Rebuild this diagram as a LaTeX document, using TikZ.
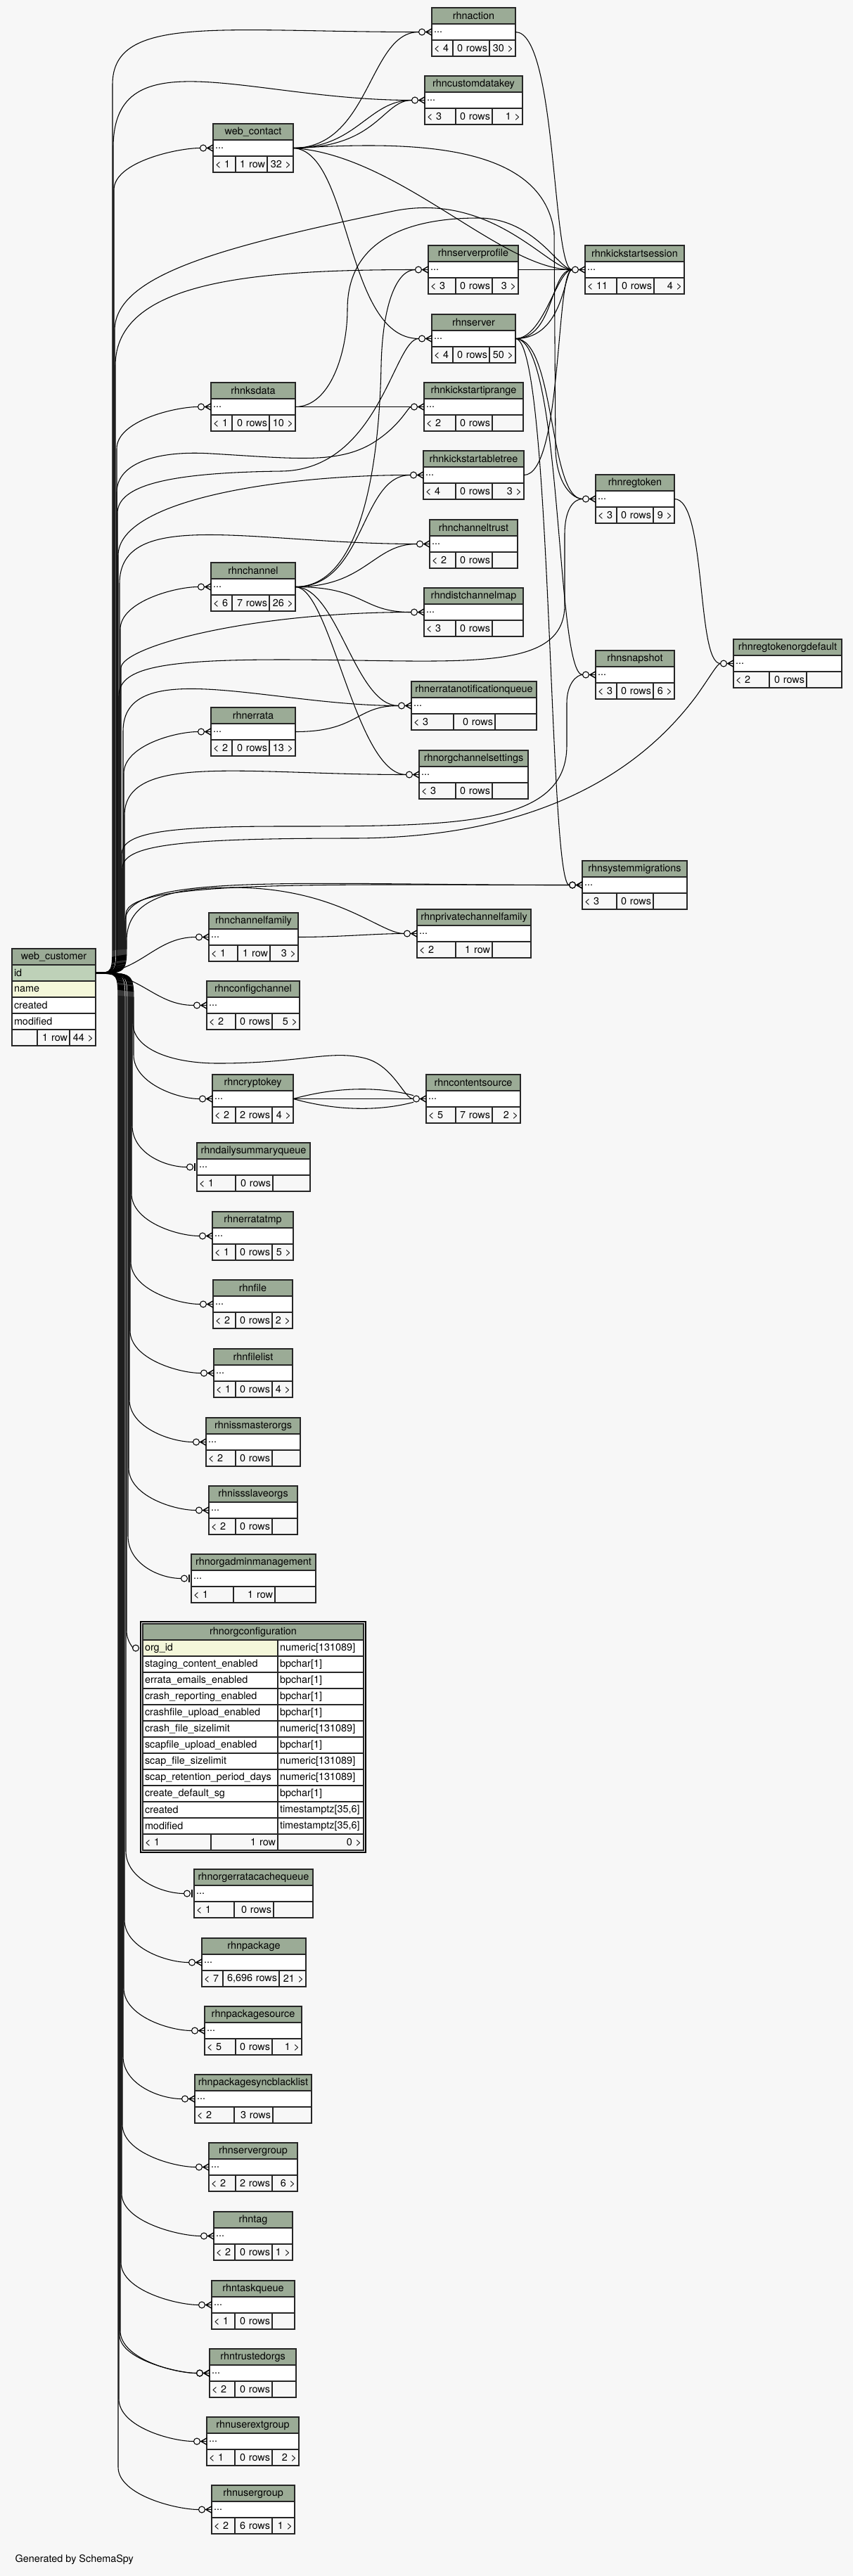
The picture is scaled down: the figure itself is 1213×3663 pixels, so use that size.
\documentclass[tikz,border=0pt]{standalone}
\usepackage{fontspec}
\setmainfont{TeX Gyre Heros}
\usetikzlibrary{calc}

\definecolor{hdgreen}{HTML}{9BAB96}
\definecolor{pkgreen}{HTML}{BED1B8}
\definecolor{idxyellow}{HTML}{F4F7DA}
\definecolor{bggray}{HTML}{F7F7F7}

% table: name, left, right, split 1, split 2, top, parents, rows, children
\newcommand{\tbl}[9]{%
  \pgfmathsetmacro{\tw}{(#3-#2)*0.75}%
  \pgfmathsetmacro{\rw}{(#3-#2-6)*0.75}%
  \pgfmathsetmacro{\lw}{(#4-#2-6)*0.75}%
  \pgfmathsetmacro{\mw}{(#5-#4-6)*0.75}%
  \pgfmathsetmacro{\fw}{(#3-#5-6)*0.75}%
  \node[hd, minimum width=\tw pt] (#1-h) at (#2,#6) {\detokenize{#1}};
  \node[cell, fill=white, text width=\rw pt, align=left] (#1) at (#2,#6+23) {...};
  \node[foot, text width=\lw pt, align=left] (#1-l) at (#2,#6+46) {\mbox{#7}};
  \node[foot, text width=\mw pt, align=right] (#1-m) at (#4,#6+46) {\mbox{#8}};
  \node[foot, text width=\fw pt, align=right] (#1-r) at (#5,#6+46) {\mbox{#9}};
}
% column row of rhnorgconfiguration: name, top, column, type
\newcommand{\cfgrow}[4]{%
  \node[cell, fill=white, text width=139.5pt, align=left] (#1) at (203,#2) {\mbox{#3}};
  \node[cell, fill=white, text width=87pt, align=left] (#1-t) at (395,#2) {\mbox{#4}};
}
% web_customer to a child above / below: child, bundle x, bend y, ctrl dy, ctrl dx, end
\newcommand{\wcup}[6]{%
  \draw[rel, #6 end] (web_customer-id.east) .. controls (#2,1383.5) .. (#2,1338) -- (#2,#3) .. controls +(0,#4) and +(-#5,0) .. (#1.west);
  \pic at (#1.west) {#6};
}
\newcommand{\wcdown}[6]{%
  \draw[rel, #6 end] (web_customer-id.east) .. controls (#2,1383.5) .. (#2,1428) -- (#2,#3) .. controls +(0,#4) and +(-#5,0) .. (#1.west);
  \pic at (#1.west) {#6};
}

\begin{document}
\begin{tikzpicture}[x=0.75pt, y=-0.75pt, font=\fontsize{10.8}{12}\selectfont,
    crowo/.pic={\draw[line width=0.8pt] (-14,0) circle (4.5);
        \fill (-9.5,0) -- (0,-5.5) -- (0,-4) -- (-6.5,0) -- (0,4) -- (0,5.5) -- cycle;
        \draw[line width=0.8pt] (-9.5,0) -- (0,0);},
    zoo/.pic={\draw[line width=0.8pt] (-10,0) circle (4.5);
        \fill (-4.5,-5.5) rectangle (-2,5.5);}]
    \tikzstyle{cell}=[draw=black!85, line width=0.9pt, anchor=north west, minimum height=17.25pt, inner xsep=2.25pt, inner ysep=0pt, outer sep=0pt]
    \tikzstyle{hd}=[cell, fill=hdgreen]
    \tikzstyle{foot}=[cell, fill=bggray]
    \tikzstyle{rel}=[draw, line width=0.8pt]
    \tikzstyle{crowo end}=[shorten >=13.9pt]
    \tikzstyle{zoo end}=[shorten >=10.9pt]

\fill[bggray] (0,0) rectangle (1213,3663);
\useasboundingbox (0,0) rectangle (1213,3663);

% web_customer
\node[hd, minimum width=89.25pt] (web_customer) at (17,1349) {web\_customer};
\node[cell, fill=pkgreen, text width=84.75pt, align=left] (web_customer-id) at (17,1372) {id};
\node[cell, fill=idxyellow, text width=84.75pt, align=left] (web_customer-name) at (17,1395) {name};
\node[cell, fill=white, text width=84.75pt, align=left] (web_customer-created) at (17,1418) {created};
\node[cell, fill=white, text width=84.75pt, align=left] (web_customer-modified) at (17,1441) {modified};
\node[foot, text width=22.5pt] (web_customer-l) at (17,1464) {};
\node[foot, text width=30pt, align=right] (web_customer-m) at (53,1464) {\mbox{1 row}};
\node[foot, text width=23.25pt, align=right] (web_customer-r) at (99,1464) {\mbox{44 >}};

% tables
\tbl{rhnaction}{614}{733}{644}{696}{11}{< 4}{0 rows}{30 >}
\tbl{rhncustomdatakey}{604}{743}{648}{700}{108}{< 3}{0 rows}{1 >}
\tbl{web_contact}{303}{417}{335}{380}{176}{< 1}{1 row}{32 >}
\tbl{rhnserverprofile}{609}{737}{648}{700}{349}{< 3}{0 rows}{3 >}
\tbl{rhnkickstartsession}{832}{973}{877}{930}{349}{< 11}{0 rows}{4 >}
\tbl{rhnserver}{614}{733}{644}{696}{447}{< 4}{0 rows}{50 >}
\tbl{rhnksdata}{300}{420}{330}{383}{544}{< 1}{0 rows}{10 >}
\tbl{rhnkickstartiprange}{603}{744}{648}{700}{544}{< 2}{0 rows}{}
\tbl{rhnkickstartabletree}{602}{745}{648}{700}{641}{< 4}{0 rows}{3 >}
\tbl{rhnregtoken}{847}{959}{877}{929}{675}{< 3}{0 rows}{9 >}
\tbl{rhnchanneltrust}{611}{736}{648}{700}{739}{< 2}{0 rows}{}
\tbl{rhnchannel}{300}{420}{330}{383}{800}{< 6}{7 rows}{26 >}
\tbl{rhndistchannelmap}{603}{744}{648}{700}{836}{< 3}{0 rows}{}
\tbl{rhnregtokenorgdefault}{1043}{1197}{1094}{1147}{909}{< 2}{0 rows}{}
\tbl{rhnsnapshot}{847}{959}{877}{929}{925}{< 3}{0 rows}{6 >}
\tbl{rhnerratanotificationqueue}{585}{763}{645}{704}{969}{< 3}{0 rows}{}
\tbl{rhnerrata}{300}{420}{330}{383}{1006}{< 2}{0 rows}{13 >}
\tbl{rhnorgchannelsettings}{596}{751}{648}{700}{1067}{< 3}{0 rows}{}
\tbl{rhnsystemmigrations}{828}{977}{877}{929}{1224}{< 3}{0 rows}{}
\tbl{rhnprivatechannelfamily}{593}{755}{648}{700}{1293}{< 2}{1 row}{}
\tbl{rhnchannelfamily}{297}{424}{338}{384}{1298}{< 1}{1 row}{3 >}
\tbl{rhnconfigchannel}{294}{426}{335}{387}{1395}{< 2}{0 rows}{5 >}
\tbl{rhncryptokey}{302}{417}{335}{387}{1528}{< 2}{2 rows}{4 >}
\tbl{rhncontentsource}{606}{740}{648}{700}{1528}{< 5}{7 rows}{2 >}
\tbl{rhndailysummaryqueue}{280}{441}{335}{388}{1625}{< 1}{0 rows}{}
\tbl{rhnerratatmp}{302}{417}{335}{387}{1723}{< 1}{0 rows}{5 >}
\tbl{rhnfile}{303}{416}{335}{387}{1820}{< 2}{0 rows}{2 >}
\tbl{rhnfilelist}{304}{416}{335}{387}{1918}{< 1}{0 rows}{4 >}
\tbl{rhnissmasterorgs}{293}{427}{335}{387}{2016}{< 2}{0 rows}{}
\tbl{rhnissslaveorgs}{297}{423}{335}{387}{2113}{< 2}{0 rows}{}
\tbl{rhnorgadminmanagement}{272}{449}{332}{391}{2210}{< 1}{1 row}{}
\tbl{rhnorgerratacachequeue}{276}{445}{333}{389}{2658}{< 1}{0 rows}{}
\tbl{rhnpackage}{287}{435}{317}{397}{2756}{< 7}{6,696 rows}{21 >}
\tbl{rhnpackagesource}{291}{429}{335}{387}{2853}{< 5}{0 rows}{1 >}
\tbl{rhnpackagesyncblacklist}{277}{443}{333}{388}{2950}{< 2}{3 rows}{}
\tbl{rhnservergroup}{297}{423}{335}{387}{3047}{< 2}{2 rows}{6 >}
\tbl{rhntag}{304}{416}{334}{387}{3145}{< 2}{0 rows}{1 >}
\tbl{rhntaskqueue}{301}{419}{334}{387}{3243}{< 1}{0 rows}{}
\tbl{rhntrustedorgs}{298}{421}{334}{387}{3340}{< 2}{0 rows}{}
\tbl{rhnuserextgroup}{294}{425}{334}{387}{3437}{< 1}{0 rows}{2 >}
\tbl{rhnusergroup}{301}{419}{334}{387}{3534}{< 2}{6 rows}{1 >}

% rhnorgconfiguration, shown with its columns
\draw[line width=1.5pt] (200,2306) rectangle (520,2634);
\node[hd, minimum width=235.5pt] (rhnorgconfiguration-h) at (203,2309) {rhnorgconfiguration};
\node[cell, fill=idxyellow, text width=139.5pt, align=left] (rhnorgconfiguration) at (203,2332) {org\_id};
\node[cell, fill=white, text width=87pt, align=left] (rhnorgconfiguration-t) at (395,2332) {\mbox{numeric[131089]}};
\cfgrow{staging}{2355}{staging\_content\_enabled}{bpchar[1]}
\cfgrow{errataemails}{2378}{errata\_emails\_enabled}{bpchar[1]}
\cfgrow{crashreporting}{2401}{crash\_reporting\_enabled}{bpchar[1]}
\cfgrow{crashfileupload}{2424}{crashfile\_upload\_enabled}{bpchar[1]}
\cfgrow{crashsizelimit}{2447}{crash\_file\_sizelimit}{numeric[131089]}
\cfgrow{scapfileupload}{2470}{scapfile\_upload\_enabled}{bpchar[1]}
\cfgrow{scapsizelimit}{2493}{scap\_file\_sizelimit}{numeric[131089]}
\cfgrow{scapretention}{2516}{scap\_retention\_period\_days}{numeric[131089]}
\cfgrow{createdefaultsg}{2539}{create\_default\_sg}{bpchar[1]}
\cfgrow{cfgcreated}{2562}{created}{timestamptz[35,6]}
\cfgrow{cfgmodified}{2585}{modified}{timestamptz[35,6]}
\node[foot, text width=68.25pt, align=left] (rhnorgconfiguration-l) at (203,2608) {\mbox{< 1}};
\node[foot, text width=66.75pt, align=right] (rhnorgconfiguration-m) at (300,2608) {\mbox{1 row}};
\node[foot, text width=87pt, align=right] (rhnorgconfiguration-r) at (395,2608) {\mbox{0 >}};

% web_customer to the tables above
\wcup{rhnaction}{160}{120}{-100}{300}{crowo}
\wcup{rhncustomdatakey}{161}{210}{-160}{250}{crowo}
\wcup{web_contact}{162}{270}{-40}{50}{crowo}
\wcup{rhnserverprofile}{164}{520}{-120}{250}{crowo}
\wcup{rhnksdata}{166}{638}{-40}{50}{crowo}
\wcup{rhnkickstartabletree}{168}{790}{-80}{200}{crowo}
\wcup{rhnchanneltrust}{170}{830}{-110}{250}{crowo}
\wcup{rhnchannel}{171}{895}{-40}{50}{crowo}
\wcup{rhndistchannelmap}{172}{950}{-30}{250}{crowo}
\wcup{rhnerratanotificationqueue}{175}{1040}{-110}{200}{crowo}
\wcup{rhnerrata}{176}{1100}{-40}{50}{crowo}
\wcup{rhnorgchannelsettings}{177}{1160}{-90}{250}{crowo}
\wcup{rhnsystemmigrations}{178}{1310}{-70}{400}{crowo}
\wcup{rhnsystemmigrations}{179}{1300}{-50}{350}{crowo}
\draw[rel, crowo end] (web_customer-id.east) .. controls (166,1383.5) .. (166,1338) -- (166,700) .. controls (166,660) and (220,640) .. (300,645) .. controls (420,652) and (480,660) .. (530,630) .. controls (570,605) and (580,578.5) .. (rhnkickstartiprange.west);
\pic at (rhnkickstartiprange.west) {crowo};
\draw[rel, crowo end] (web_customer-id.east) .. controls (163,1383.5) .. (163,1338) -- (163,470) .. controls (163,390) and (320,350) .. (560,300) .. controls (700,272) and (780,383.5) .. (rhnkickstartsession.west);
\pic at (rhnkickstartsession.west) {crowo};
\draw[rel, crowo end] (web_customer-id.east) .. controls (167,1383.5) .. (167,1338) -- (167,730) .. controls (167,690) and (240,672) .. (400,670) .. controls (540,668) and (560,481.5) .. (rhnserver.west);
\pic at (rhnserver.west) {crowo};
\draw[rel, crowo end] (web_customer-id.east) .. controls (169,1383.5) .. (169,1338) -- (169,990) .. controls (169,952) and (220,938) .. (400,938) .. controls (650,938) and (803,960) .. (803,860) -- (803,760) .. controls (803,725) and (815,709.5) .. (rhnregtoken.west);
\pic at (rhnregtoken.west) {crowo};
\draw[rel, crowo end] (web_customer-id.east) .. controls (173,1383.5) .. (173,1338) -- (173,1215) .. controls (173,1185) and (230,1175) .. (400,1175) .. controls (650,1175) and (806,1175) .. (806,1060) -- (806,1000) .. controls (806,972) and (820,959.5) .. (rhnsnapshot.west);
\pic at (rhnsnapshot.west) {crowo};
\draw[rel, crowo end] (web_customer-id.east) .. controls (174,1383.5) .. (174,1338) -- (174,1235) .. controls (174,1202) and (250,1192) .. (500,1192) .. controls (800,1192) and (930,1070) .. (990,990) .. controls (1010,962) and (1020,943.5) .. (rhnregtokenorgdefault.west);
\pic at (rhnregtokenorgdefault.west) {crowo};
\draw[rel, crowo end] (web_customer-id.east) .. controls (180,1383.5) .. (180,1338) .. controls (180,1290) and (220,1262) .. (330,1262) .. controls (480,1262) and (540,1327.5) .. (rhnprivatechannelfamily.west);
\pic at (rhnprivatechannelfamily.west) {crowo};
\draw[rel, crowo end] (web_customer-id.east) .. controls (200,1383.5) and (220,1332.5) .. (rhnchannelfamily.west);
\pic at (rhnchannelfamily.west) {crowo};

% web_customer to the tables below
\draw[rel, crowo end] (web_customer-id.east) .. controls (200,1383.5) and (220,1429.5) .. (rhnconfigchannel.west);
\pic at (rhnconfigchannel.west) {crowo};
\draw[rel, crowo end] (web_customer-id.east) .. controls (189,1383.5) .. (189,1428) -- (189,1455) .. controls (189,1490) and (240,1512) .. (310,1512) .. controls (430,1512) and (470,1492) .. (520,1505) .. controls (560,1516) and (575,1562.5) .. (rhncontentsource.west);
\pic at (rhncontentsource.west) {crowo};
\wcdown{rhncryptokey}{190}{1500}{40}{50}{crowo}
\wcdown{rhndailysummaryqueue}{188}{1600}{40}{45}{zoo}
\wcdown{rhnerratatmp}{187}{1697}{40}{50}{crowo}
\wcdown{rhnfile}{186}{1794}{40}{50}{crowo}
\wcdown{rhnfilelist}{185}{1892}{40}{50}{crowo}
\wcdown{rhnissmasterorgs}{184}{1990}{40}{50}{crowo}
\wcdown{rhnissslaveorgs}{183}{2087}{40}{50}{crowo}
\wcdown{rhnorgadminmanagement}{182}{2184}{40}{45}{zoo}
\wcdown{rhnorgconfiguration}{180}{2318}{18}{12}{zoo}
\wcdown{rhnorgerratacachequeue}{179}{2632}{40}{45}{zoo}
\wcdown{rhnpackage}{177}{2730}{40}{50}{crowo}
\wcdown{rhnpackagesource}{176}{2827}{40}{50}{crowo}
\wcdown{rhnpackagesyncblacklist}{175}{2924}{40}{50}{crowo}
\wcdown{rhnservergroup}{174}{3021}{40}{50}{crowo}
\wcdown{rhntag}{173}{3119}{40}{50}{crowo}
\wcdown{rhntaskqueue}{172}{3217}{40}{50}{crowo}
\wcdown{rhntrustedorgs}{171}{3314}{40}{50}{crowo}
\wcdown{rhntrustedorgs}{170}{3320}{35}{45}{crowo}
\wcdown{rhnuserextgroup}{169}{3411}{40}{50}{crowo}
\wcdown{rhnusergroup}{168}{3508}{40}{50}{crowo}

% other relations
\draw[rel, crowo end] (web_contact.east) .. controls +(110,0) and +(-90,0) .. (rhnaction.west);
\draw[rel, crowo end] (web_contact.east) .. controls +(90,0) and +(-80,0) .. (rhncustomdatakey.west);
\draw[rel, crowo end] (web_contact.east) .. controls +(120,0) and +(-60,0) .. (rhncustomdatakey.west);
\draw[rel, crowo end] (web_contact.east) .. controls +(150,10) and +(-120,0) .. (rhnkickstartsession.west);
\draw[rel, crowo end] (web_contact.east) .. controls (500,215) and (490,481.5) .. (rhnserver.west);
\draw[rel, crowo end] (web_contact.east) .. controls (560,203) and (770,195) .. (788,330) -- (790,640) .. controls (792,690) and (815,709.5) .. (rhnregtoken.west);
\draw[rel, crowo end] (rhnaction.east) .. controls (792,45.5) and (785,383.5) .. (rhnkickstartsession.west);
\draw[rel, crowo end] (rhnserverprofile.east) -- (rhnkickstartsession.west);
\draw[rel, crowo end] (rhnserver.east) .. controls +(40,0) and +(-40,0) .. (rhnkickstartsession.west);
\draw[rel, crowo end] (rhnserver.east) .. controls +(55,0) and +(-50,0) .. (rhnkickstartsession.west);
\draw[rel, crowo end] (rhnserver.east) .. controls +(70,0) and +(-30,0) .. (rhnkickstartsession.west);
\draw[rel, crowo end] (rhnserver.east) .. controls (790,481.5) and (780,709.5) .. (rhnregtoken.west);
\draw[rel, crowo end] (rhnserver.east) .. controls (800,481.5) and (790,959.5) .. (rhnsnapshot.west);
\draw[rel, crowo end] (rhnserver.east) .. controls (785,481.5) and (780,1258.5) .. (rhnsystemmigrations.west);
\draw[rel, crowo end] (rhnksdata.east) -- (rhnkickstartiprange.west);
\draw[rel, crowo end] (rhnksdata.east) .. controls (470,578.5) and (494,500) .. (494,440) .. controls (494,330) and (600,310) .. (680,310) .. controls (760,310) and (795,383.5) .. (rhnkickstartsession.west);
\draw[rel, crowo end] (rhnkickstartabletree.east) .. controls (800,675.5) and (790,383.5) .. (rhnkickstartsession.west);
\draw[rel, crowo end] (rhnchannel.east) .. controls (525,834.5) and (540,620) .. (542,520) .. controls (544,430) and (565,383.5) .. (rhnserverprofile.west);
\draw[rel, crowo end] (rhnchannel.east) .. controls +(100,0) and +(-90,0) .. (rhnkickstartabletree.west);
\draw[rel, crowo end] (rhnchannel.east) .. controls +(100,0) and +(-80,0) .. (rhnchanneltrust.west);
\draw[rel, crowo end] (rhnchannel.east) .. controls +(100,0) and +(-90,0) .. (rhndistchannelmap.west);
\draw[rel, crowo end] (rhnchannel.east) .. controls +(60,0) and +(-80,0) .. (rhnerratanotificationqueue.west);
\draw[rel, crowo end] (rhnchannel.east) .. controls +(50,0) and +(-90,0) .. (rhnorgchannelsettings.west);
\draw[rel, crowo end] (rhnerrata.east) .. controls +(90,0) and +(-80,0) .. (rhnerratanotificationqueue.west);
\draw[rel, crowo end] (rhnregtoken.east) .. controls (1005,709.5) and (990,943.5) .. (rhnregtokenorgdefault.west);
\draw[rel, crowo end] (rhnchannelfamily.east) .. controls +(60,0) and +(-60,0) .. (rhnprivatechannelfamily.west);
\draw[rel, crowo end] (rhncryptokey.east) -- (rhncontentsource.west);
\draw[rel, crowo end] (rhncryptokey.east) .. controls (480,1545) and (540,1545) .. (rhncontentsource.west);
\draw[rel, crowo end] (rhncryptokey.east) .. controls (480,1580) and (540,1580) .. (rhncontentsource.west);

\node[anchor=west] (credit) at (17,3640) {Generated by SchemaSpy};
\end{tikzpicture}
\end{document}
